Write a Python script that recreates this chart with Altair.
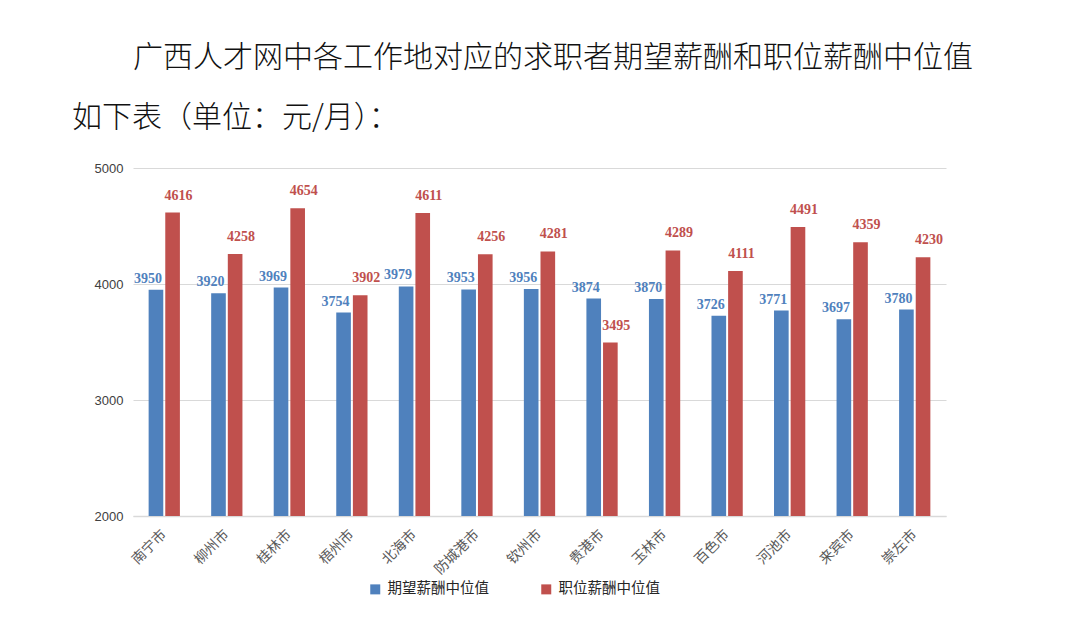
import altair as alt
import pandas as pd

cities = ["南宁市", "柳州市", "桂林市", "梧州市", "北海市", "防城港市", "钦州市",
          "贵港市", "玉林市", "百色市", "河池市", "来宾市", "崇左市"]
expected = [3950, 3920, 3969, 3754, 3979, 3953, 3956, 3874, 3870, 3726, 3771, 3697, 3780]
posted = [4616, 4258, 4654, 3902, 4611, 4256, 4281, 3495, 4289, 4111, 4491, 4359, 4230]
series = ["期望薪酬中位值", "职位薪酬中位值"]
colors = ["#4f81bd", "#c0504d"]
y_ticks = [2000, 3000, 4000, 5000]
title_lines = ["广西人才网中各工作地对应的求职者期望薪酬和职位薪酬中位值", "如下表（单位：元/月）："]

rows = []
for c, e, p in zip(cities, expected, posted):
    rows.append({"city": c, "series": series[0], "value": e})
    rows.append({"city": c, "series": series[1], "value": p})
df = pd.DataFrame(rows)

x_enc = alt.X("city:N", sort=cities,
              scale=alt.Scale(paddingInner=0.5, paddingOuter=0.25),
              axis=alt.Axis(title=None, labelAngle=-45, labelAlign="right", labelBaseline="middle",
                            ticks=False, domainColor="#d9d9d9", domainWidth=1.5,
                            labelColor="#595959", labelFont="Noto Sans CJK SC",
                            labelFontSize=14, labelPadding=16))
xoff = alt.XOffset("series:N", sort=series, scale=alt.Scale(paddingInner=0.12))
y_enc = alt.Y("value:Q", scale=alt.Scale(domain=[2000, 5000]),
              axis=alt.Axis(title=None, values=y_ticks, format="d", grid=True, gridColor="#d9d9d9",
                            gridWidth=1.2, domain=False, ticks=False, labelPadding=10,
                            labelColor="#404040", labelFont="Liberation Sans", labelFontSize=13))
color_enc = alt.Color("series:N", sort=series,
                      scale=alt.Scale(domain=series, range=colors),
                      legend=alt.Legend(title=None, orient="none", legendX=235, legendY=414,
                                        direction="horizontal", symbolType="square",
                                        symbolSize=100, symbolStrokeWidth=0,
                                        labelFont="Noto Sans CJK SC", labelFontSize=14.5,
                                        labelColor="#262626", columnPadding=50, labelOffset=5))

base = alt.Chart(df)
bars = base.mark_bar().encode(x=x_enc, xOffset=xoff, y=y_enc, y2=alt.datum(2000), color=color_enc)

lab_exp = base.transform_filter(alt.datum.series == series[0]).mark_text(
    baseline="bottom", dx=-8, dy=-4, font="Liberation Serif", fontWeight="bold",
    fontSize=14, color=colors[0]).encode(x=x_enc, xOffset=xoff, y=y_enc, text="value:Q")
lab_post = base.transform_filter(alt.datum.series == series[1]).mark_text(
    baseline="bottom", dx=6, dy=-10, font="Liberation Serif", fontWeight="bold",
    fontSize=14, color=colors[1]).encode(x=x_enc, xOffset=xoff, y=y_enc, text="value:Q")

tdf = pd.DataFrame({"line": title_lines, "tx": [0, -61], "ty": [-110, -50]})
title_layer = alt.Chart(tdf).mark_text(
    align="left", baseline="middle", font="Noto Sans CJK SC", fontSize=30,
    fontWeight=300, color="#111111").encode(
    x=alt.X("tx:Q", scale=None), y=alt.Y("ty:Q", scale=None), text="line:N")

chart = alt.layer(bars, lab_exp, lab_post, title_layer).properties(
    width=813, height=348,
    autosize=alt.AutoSizeParams(type="none"),
    padding={"left": 125, "top": 160, "right": 126, "bottom": 109},
    background="white",
).configure_view(stroke=None)

chart.save("out.html", embed_options={"renderer": "svg", "actions": False})
